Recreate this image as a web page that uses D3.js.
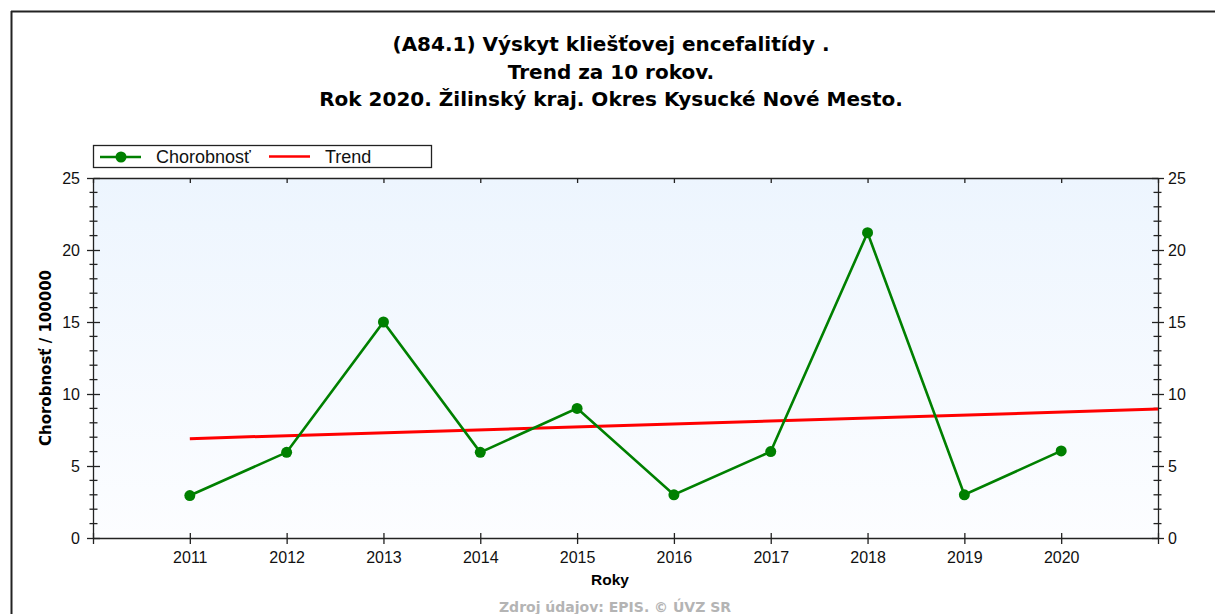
<!DOCTYPE html>
<html>
<head>
<meta charset="utf-8">
<script src="https://cdn.jsdelivr.net/npm/d3@7"></script>
<style>
  html, body { margin: 0; padding: 0; background: #ffffff; }
  svg { display: block; }
  text { font-family: "Liberation Sans", Arial, sans-serif; }
</style>
</head>
<body>
<div id="chart"></div>
<script>
// Incidence of tick-borne encephalitis per 100 000, 2011–2020
const years = [2011, 2012, 2013, 2014, 2015, 2016, 2017, 2018, 2019, 2020];
const morbidity = [2.95, 5.95, 15.0, 5.95, 9.0, 3.0, 6.0, 21.2, 3.0, 6.05];
// Linear trend line end points (year, value)
const trendYears = [2011, 2021];
const trendValues = [6.9, 8.95];
const yTicks = [0, 5, 10, 15, 20, 25];
const titleLines = [
  "(A84.1) Výskyt kliešťovej encefalitídy .",
  "Trend za 10 rokov.",
  "Rok 2020. Žilinský kraj. Okres Kysucké Nové Mesto."
];
const legendLabels = ["Chorobnosť", "Trend"];

const W = 1215, H = 614;
const margin = { left: 93, right: W - 1158, top: 178, bottom: H - 538 };
const boldFont = "'DejaVu Sans', Verdana, sans-serif";

const svg = d3.select("#chart").append("svg")
  .attr("width", W).attr("height", H);

// outer frame
svg.append("line").attr("x1", 11).attr("x2", W).attr("y1", 11.5).attr("y2", 11.5)
  .attr("stroke", "#222").attr("stroke-width", 2);
svg.append("line").attr("x1", 11.5).attr("x2", 11.5).attr("y1", 11).attr("y2", H)
  .attr("stroke", "#222").attr("stroke-width", 2);

const x = d3.scaleLinear().domain([2010, 2021]).range([margin.left, W - margin.right]);
const y = d3.scaleLinear().domain([0, 25]).range([H - margin.bottom, margin.top]);

// plot background gradient
const defs = svg.append("defs");
const grad = defs.append("linearGradient").attr("id", "bg")
  .attr("x1", 0).attr("y1", 0).attr("x2", 0).attr("y2", 1);
grad.append("stop").attr("offset", "0%").attr("stop-color", "#edf5fe");
grad.append("stop").attr("offset", "100%").attr("stop-color", "#fcfdff");
svg.append("rect")
  .attr("x", x(2010)).attr("y", y(25))
  .attr("width", x(2021) - x(2010)).attr("height", y(0) - y(25))
  .attr("fill", "url(#bg)");

// title
svg.append("g").selectAll("text").data(titleLines).join("text")
  .attr("x", 611).attr("y", (d, i) => 51 + i * 27.5)
  .attr("text-anchor", "middle")
  .style("font-family", boldFont)
  .attr("font-size", 20).attr("font-weight", "bold").attr("fill", "#000")
  .text(d => d);

const axisColor = "#222";
function styleAxis(g) {
  g.selectAll("path, line").attr("stroke", axisColor).attr("stroke-width", 1.3);
  g.selectAll("text").attr("font-size", 16).attr("fill", "#111")
    .attr("font-family", "Liberation Sans, Arial, sans-serif");
}

const minorY = d3.range(0, 26, 1).filter(v => v % 5 !== 0);

// left axis: major ticks crossing the axis line, minor ticks every unit
const gl = svg.append("g").attr("transform", `translate(${x(2010)},0)`);
gl.call(d3.axisLeft(y).tickValues(yTicks).tickSize(6).tickPadding(7).tickSizeOuter(0))
  .call(styleAxis);
gl.selectAll(".tick").append("line").attr("x1", 0).attr("x2", 7)
  .attr("stroke", axisColor).attr("stroke-width", 1.3);
gl.selectAll(".minor").data(minorY).join("line").attr("class", "minor")
  .attr("x1", -3.5).attr("x2", 4.5).attr("y1", d => y(d)).attr("y2", d => y(d))
  .attr("stroke", axisColor).attr("stroke-width", 1.3);

// right axis
const gr = svg.append("g").attr("transform", `translate(${x(2021)},0)`);
gr.call(d3.axisRight(y).tickValues(yTicks).tickSize(6).tickPadding(4).tickSizeOuter(0))
  .call(styleAxis);
gr.selectAll(".tick").append("line").attr("x1", 0).attr("x2", -6)
  .attr("stroke", axisColor).attr("stroke-width", 1.3);
gr.selectAll(".minor").data(minorY).join("line").attr("class", "minor")
  .attr("x1", -4.5).attr("x2", 3.5).attr("y1", d => y(d)).attr("y2", d => y(d))
  .attr("stroke", axisColor).attr("stroke-width", 1.3);

// bottom axis
const allYears = d3.range(2010, 2022);
const gb = svg.append("g").attr("transform", `translate(0,${y(0)})`);
gb.call(d3.axisBottom(x).tickValues(allYears).tickSize(6).tickPadding(8).tickSizeOuter(0)
    .tickFormat(d => years.includes(d) ? String(d) : ""))
  .call(styleAxis);
gb.selectAll(".tick").append("line").attr("y1", 0).attr("y2", -5)
  .attr("stroke", axisColor).attr("stroke-width", 1.3);

// top axis (ticks only)
const gt = svg.append("g").attr("transform", `translate(0,${y(25)})`);
gt.call(d3.axisTop(x).tickValues(allYears).tickSize(-5).tickFormat("").tickSizeOuter(0))
  .call(styleAxis);

// axis titles
svg.append("text")
  .attr("transform", `translate(51,${(y(0) + y(25)) / 2}) rotate(-90)`)
  .attr("text-anchor", "middle").style("font-family", boldFont)
  .attr("font-size", 15).attr("font-weight", "bold")
  .text("Chorobnosť / 100000");
svg.append("text")
  .attr("x", 610).attr("y", 585).attr("text-anchor", "middle")
  .attr("font-size", 15.5).attr("font-weight", "bold").text("Roky");

// footer
svg.append("text")
  .attr("x", 615).attr("y", 612).attr("text-anchor", "middle")
  .style("font-family", boldFont)
  .attr("font-size", 14).attr("font-weight", "bold").attr("fill", "#b4b4b4")
  .text("Zdroj údajov: EPIS. © ÚVZ SR");

// trend line
const trendData = trendYears.map((yr, i) => ({ yr, v: trendValues[i] }));
svg.append("path").datum(trendData)
  .attr("d", d3.line().x(d => x(d.yr)).y(d => y(d.v)))
  .attr("fill", "none").attr("stroke", "#ff0000").attr("stroke-width", 3);

// morbidity series
const series = years.map((yr, i) => ({ yr, v: morbidity[i] }));
svg.append("path").datum(series)
  .attr("d", d3.line().x(d => x(d.yr)).y(d => y(d.v)))
  .attr("fill", "none").attr("stroke", "#008000").attr("stroke-width", 2.6);
svg.append("g").selectAll("circle").data(series).join("circle")
  .attr("cx", d => x(d.yr)).attr("cy", d => y(d.v)).attr("r", 5.5)
  .attr("fill", "#008000");

// legend
const lg = svg.append("g");
lg.append("rect").attr("x", 93.5).attr("y", 145.5).attr("width", 338).attr("height", 22)
  .attr("fill", "#fff").attr("stroke", "#222").attr("stroke-width", 1.3);
lg.append("line").attr("x1", 100).attr("x2", 141).attr("y1", 157).attr("y2", 157)
  .attr("stroke", "#008000").attr("stroke-width", 2.6);
lg.append("circle").attr("cx", 121).attr("cy", 157).attr("r", 5.5).attr("fill", "#008000");
lg.append("text").attr("x", 156).attr("y", 163).attr("font-size", 18).attr("fill", "#111")
  .text(legendLabels[0]);
lg.append("line").attr("x1", 269).attr("x2", 310).attr("y1", 156.5).attr("y2", 156.5)
  .attr("stroke", "#ff0000").attr("stroke-width", 2.6);
lg.append("text").attr("x", 325).attr("y", 163).attr("font-size", 18).attr("fill", "#111")
  .text(legendLabels[1]);
</script>
</body>
</html>
